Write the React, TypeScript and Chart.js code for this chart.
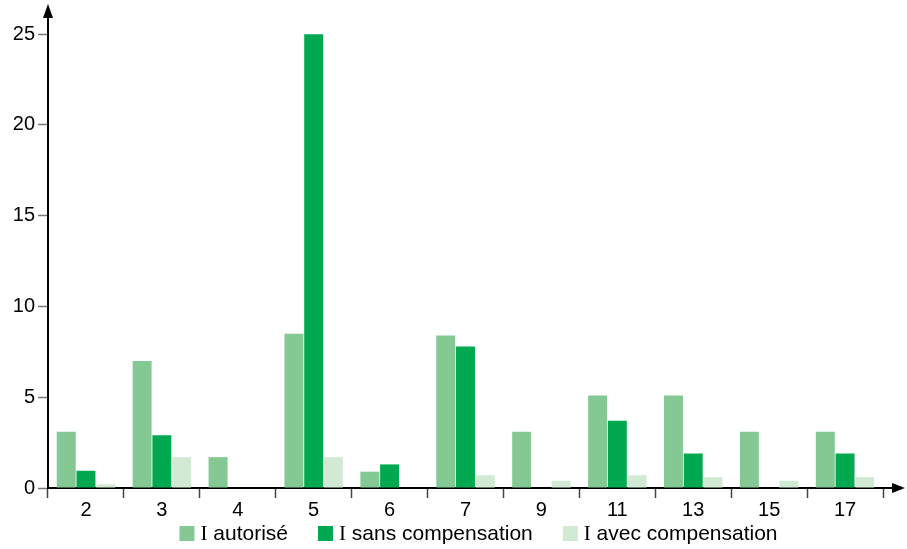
import React, { useEffect, useRef } from "react";
import { Chart, registerables } from "chart.js";

Chart.register(...registerables);

const categories = ["2", "3", "4", "5", "6", "7", "9", "11", "13", "15", "17"];
const seriesLabels = ["I autorisé", "I sans compensation", "I avec compensation"];
const autorise = [3.1, 7.0, 1.7, 8.5, 0.9, 8.4, 3.1, 5.1, 5.1, 3.1, 3.1];
const sansCompensation = [0.95, 2.9, 0, 25, 1.3, 7.8, 0, 3.7, 1.9, 0, 1.9];
const avecCompensation = [0.2, 1.7, 0, 1.7, 0, 0.7, 0.4, 0.7, 0.6, 0.4, 0.6];
const seriesColors = ["#84c994", "#00a94f", "#d2e9d4"];
const yTickStep = 5;

const arrowsPlugin = {
  id: "axisArrows",
  afterDraw(chart: any) {
    const { ctx, chartArea } = chart;
    const { left, right, top, bottom } = chartArea;
    ctx.save();
    ctx.strokeStyle = "#000";
    ctx.fillStyle = "#000";
    ctx.lineWidth = 2;
    ctx.beginPath();
    ctx.moveTo(left, top - 3);
    ctx.lineTo(left - 5, top + 11);
    ctx.lineTo(left + 5, top + 11);
    ctx.closePath();
    ctx.fill();
    ctx.beginPath();
    ctx.moveTo(right, bottom);
    ctx.lineTo(right + 12, bottom);
    ctx.stroke();
    ctx.beginPath();
    ctx.moveTo(right + 22, bottom);
    ctx.lineTo(right + 9, bottom - 5);
    ctx.lineTo(right + 9, bottom + 5);
    ctx.closePath();
    ctx.fill();
    ctx.restore();
  },
};

const legendPlugin = {
  id: "customLegend",
  afterDraw(chart: any) {
    const { ctx } = chart;
    const serif = '21px "Liberation Serif", "Times New Roman", serif';
    const sans = '21px "Liberation Sans", Arial, sans-serif';
    const box = 15;
    const boxGap = 6;
    const itemGap = 30;
    const items = chart.data.datasets.map((ds: any) => {
      const label: string = ds.label;
      const idx = label.indexOf(" ");
      const head = label.slice(0, idx);
      const tail = label.slice(idx);
      ctx.font = serif;
      const hw = ctx.measureText(head).width;
      ctx.font = sans;
      const tw = ctx.measureText(tail).width;
      return { head, tail, hw, tw, color: ds.backgroundColor, w: box + boxGap + hw + tw };
    });
    const total = items.reduce((s: number, it: any) => s + it.w, 0) + itemGap * (items.length - 1);
    let x = chart.width / 2 + 25 - total / 2;
    const cy = 533.5;
    ctx.save();
    ctx.textBaseline = "middle";
    ctx.textAlign = "left";
    for (const it of items) {
      ctx.fillStyle = it.color;
      ctx.fillRect(x, cy - box / 2, box, box);
      let tx = x + box + boxGap;
      ctx.fillStyle = "#000";
      ctx.font = serif;
      ctx.fillText(it.head, tx, cy + 1);
      tx += it.hw;
      ctx.font = sans;
      ctx.fillText(it.tail, tx, cy + 1);
      x += it.w + itemGap;
    }
    ctx.restore();
  },
};

export default function App() {
  const canvasRef = useRef<HTMLCanvasElement | null>(null);

  useEffect(() => {
    if (!canvasRef.current) return;
    const font = { family: '"Liberation Sans", Arial, sans-serif', size: 20 };
    const chart = new Chart(canvasRef.current, {
      type: "bar",
      data: {
        labels: categories,
        datasets: [
          { label: seriesLabels[0], data: autorise, backgroundColor: seriesColors[0] },
          { label: seriesLabels[1], data: sansCompensation, backgroundColor: seriesColors[1] },
          { label: seriesLabels[2], data: avecCompensation, backgroundColor: seriesColors[2] },
        ],
      },
      options: {
        animation: false,
        responsive: false,
        maintainAspectRatio: false,
        devicePixelRatio: 1,
        layout: { padding: { top: 7, right: 24, bottom: 0, left: 0 } },
        datasets: { bar: { categoryPercentage: 0.78, barPercentage: 0.96 } },
        plugins: { legend: { display: false }, tooltip: { enabled: false } },
        scales: {
          x: {
            afterFit: (scale: any) => {
              scale.height = 61;
              scale.paddingLeft = 0;
              scale.paddingRight = 0;
            },
            grid: {
              offset: true,
              drawOnChartArea: false,
              drawTicks: true,
              tickLength: 10,
              tickColor: "#444",
              tickWidth: 1.5,
            },
            border: { color: "#000", width: 2 },
            ticks: { font, color: "#000", padding: 0 },
          },
          y: {
            min: 0,
            max: 26.5,
            afterBuildTicks: (scale: any) => {
              scale.ticks = scale.ticks.filter((t: any) => t.value % yTickStep === 0);
            },
            afterFit: (scale: any) => {
              scale.width = 48;
              scale.paddingTop = 0;
              scale.paddingBottom = 0;
            },
            grid: {
              drawOnChartArea: false,
              drawTicks: true,
              tickLength: 10,
              tickColor: "#777",
              tickWidth: 1.5,
            },
            border: { color: "#000", width: 2 },
            ticks: { font, color: "#000", padding: 3, stepSize: yTickStep },
          },
        },
      },
      plugins: [arrowsPlugin, legendPlugin],
    });
    return () => chart.destroy();
  }, []);

  return (
    <div style={{ position: "absolute", left: 0, top: 0, width: 907, height: 549, background: "#fff" }}>
      <canvas ref={canvasRef} width={907} height={549} style={{ width: 907, height: 549, display: "block" }} />
    </div>
  );
}
